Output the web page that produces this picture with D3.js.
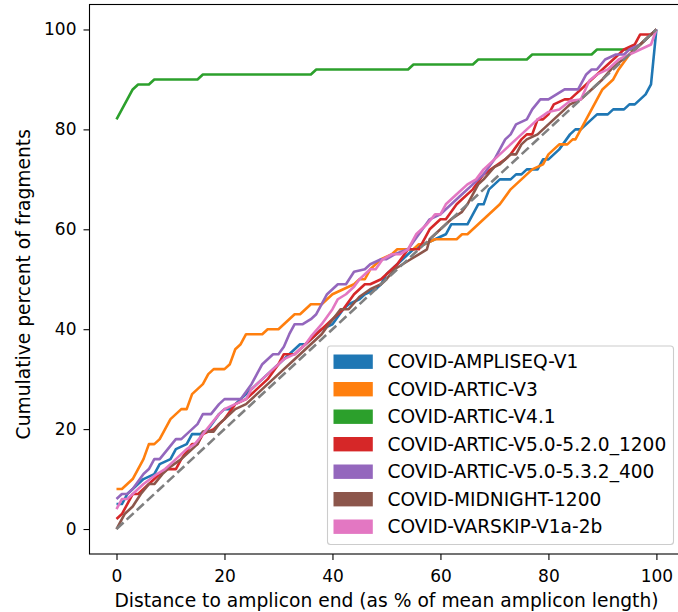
<!DOCTYPE html>
<html>
<head>
<meta charset="utf-8">
<script src="https://cdn.jsdelivr.net/npm/d3@7"></script>
<style>
  html, body { margin: 0; padding: 0; background: #fff; }
  svg { display: block; font-family: "DejaVu Sans", sans-serif; }
</style>
</head>
<body>
<svg id="chart" width="678" height="612"></svg>
<script>
// ---- data (x = distance %, y = cumulative %) ----
const seriesNames = [
  "COVID-AMPLISEQ-V1",
  "COVID-ARTIC-V3",
  "COVID-ARTIC-V4.1",
  "COVID-ARTIC-V5.0-5.2.0_1200",
  "COVID-ARTIC-V5.0-5.3.2_400",
  "COVID-MIDNIGHT-1200",
  "COVID-VARSKIP-V1a-2b"
];
const seriesColors = ["#1f77b4", "#ff7f0e", "#2ca02c", "#d62728", "#9467bd", "#8c564b", "#e377c2"];

const amplisePts = [[0,5],[1,5],[2,7],[4,9],[5,10],[7,11],[8,13],[10,14],[11,16],[13,17],[14,19],[15.5,19],[17,20],[19,23],[20,24],[21,24],[22,25],[24,27],[26,29],[28,31],[30,33],[32,35],[33,36],[34,37],[35,37],[36,38],[38,40],[40,41],[42,44],[43,45],[45,46],[46,47],[48,48],[49,49],[50,51],[52,53],[54,55],[55,56],[57,57],[59,58],[61,59],[62,61],[65,61],[66,63],[67,65],[68,65],[69,68],[71,70],[73,70],[74,71],[75,71],[76,72],[78,72],[79,74],[80,74],[82,76],[84,79],[85,80],[86,80],[89,83],[91,83],[92,84],[94,84],[95,85],[96,85],[98,87],[99,89],[100,100]];
const articV3Pts = [[0,8],[1,8],[2,9],[3,10],[4,12],[5,14],[6,17],[7,17],[8,18],[9,20],[10,22],[11,23],[12,24],[13,24],[14,27],[15,28],[16,29],[17,31],[18,32],[20,32],[21,33],[22,36],[23,37],[24,39],[27,39],[28,40],[30,40],[31,41],[33,43],[34,43],[36,45],[38,45],[39,46],[40,47],[42,48],[44,49],[45,50],[46,50],[47,52],[49,54],[51,55],[52,56],[55,56],[56,57],[57,57],[59,58],[63,58],[64,59],[65,59],[67,61],[69,63],[71,65],[73,68],[75,70],[77,72],[79,73],[80,75],[82,77],[83.5,77],[84.5,78],[85,78],[87,82],[88,84],[89,86],[90,88],[92,90],[93,92],[95,95],[97,97],[100,100]];
const articV41Pts = [[0,82],[1,84],[2,86],[3,88],[4,89],[6,89],[7,90],[15,90],[16,91],[36,91],[37,92],[54,92],[55,93],[66,93],[67,94],[76,94],[77,95],[88,95],[89,96],[96,96],[97,97],[98,98],[99,99],[100,100]];
const artic1200Pts = [[0,2],[1,3],[2,5],[3,7],[4,7],[5,8],[6,9],[8,11],[9.5,12],[11,12],[12,14],[14,17],[15,17],[16,19],[18,20],[19,21],[20,22],[22,25],[24,26],[26,28],[28,30],[30,33],[31,35],[33,35],[34,36],[36,38],[37,39],[39,41],[41,43],[42,44],[44,47],[46,49],[47,49],[49,50],[50,51],[52,53],[54,56],[56,56],[58,60],[60,62],[61,62],[63,65],[64,66],[66,68],[68,71],[70,72.5],[72,74],[73,75],[75,78],[76,79],[77,79],[78,82],[79,82],[80,83],[81,85],[83,86],[84,86],[85,87],[86,88],[88,90],[90,92],[92,94],[94,96],[96,97],[97,99],[99,99],[100,100]];
const artic400Pts = [[0,6],[1,7],[2,7],[3,8],[5,11],[6,12],[7,14],[8,14],[9.5,16],[11,18],[12,18],[13,19],[15,21],[16,23],[17.5,23],[19,25],[20,26],[23,26],[24,27.5],[25,29],[26,31],[27,33],[29,35],[30,35],[31,36.5],[32,39],[33,41],[34.5,41],[36,42],[37,43],[38,45],[39,47],[40,48],[41,49],[42.5,49],[44,51.5],[46,52],[47,53],[49,54],[50,54],[51.5,55],[54,56],[56,59],[58,62],[60,63],[62,65],[64,67],[66,69],[68,71],[70,74],[71,76],[72,78],[73,79],[74,81],[76,82],[77,84],[78.5,86],[80,86],[81.5,87],[83,88],[85.5,88],[87,91],[88,92],[89,92],[90.5,94],[92.5,95],[94,95],[95,96],[97,97],[98,98],[99,99],[100,100]];
const midnightPts = [[0,0],[1.5,3],[3,4.5],[4.5,7],[6,9],[7,9],[8.5,11],[10,12.5],[12,14],[13.5,15.5],[15,17],[16,19.5],[18,19.5],[19,21],[20,22],[22,24],[24,25],[26,27],[28,29],[30,31],[32,33],[34,35],[36,37],[38,39],[39,40.5],[41.5,44],[43,44],[45,46.5],[47,48],[49,49],[50,50],[51.5,52],[53,53],[54.5,54],[56,55],[57.5,56],[58,58],[59,59],[61,61],[62,62],[64,63.5],[65,65],[66,67],[67,69],[68,70],[70,72.5],[71,73],[73,75],[74,75],[75,77],[76,78],[78,79],[80,81],[82,83],[84,85],[86,86],[88,88],[90,90],[92,92.5],[95,95],[97,97],[100,100]];
const varskipPts = [[0,4],[1,6],[2,6],[4,8],[5,9],[7.5,11],[9,12],[10,13],[11,14],[13,16],[14.5,17],[16,19],[17.5,21],[19,23],[20,24],[22,25],[24,26],[25,28],[27,30],[29,32],[31,34],[33,35],[35,37],[36,38.5],[38,41],[40,44],[41,46],[42.5,47],[44,48.5],[45,50],[47,52],[48,52],[49.3,54],[51,55],[52.5,55],[54,56],[55.5,59],[57.5,61],[59,63],[60,63],[61,65],[63,67],[65,69],[66.6,70],[68,72],[70,74],[72,76],[74,78],[76,80],[78,82],[80,83.5],[82,84],[84,85.7],[86,86],[87.6,89.8],[89,91],[91,92],[93,94],[95,95],[97,96],[99,97],[100,100]];

const seriesPoints = [amplisePts, articV3Pts, articV41Pts, artic1200Pts, artic400Pts, midnightPts, varskipPts];
const diagonalPts = [[0,0],[100,100]];

const xTicks = [0, 20, 40, 60, 80, 100];
const yTicks = [0, 20, 40, 60, 80, 100];
const xLabel = "Distance to amplicon end (as % of mean amplicon length)";
const yLabel = "Cumulative percent of fragments";

// ---- layout ----
const svg = d3.select("#chart");
const L = 89.5, R = 678, T = 4.5, B = 554;
const x = d3.scaleLinear().domain([-5, 104]).range([L, R]);
const y = d3.scaleLinear().domain([-5, 105]).range([B, T]);
const FS = 17;     // tick labels
const LFS = 18.7;  // axis labels
const GFS = 18.6;  // legend

const plot = svg.append("g");
svg.append("clipPath").attr("id", "clip").append("rect")
  .attr("x", L).attr("y", T).attr("width", R - L).attr("height", B - T);

const line = d3.line().x(d => x(d[0])).y(d => y(d[1]));

const linesG = plot.append("g").attr("clip-path", "url(#clip)");
seriesPoints.forEach((pts, i) => {
  linesG.append("path")
    .attr("d", line(pts))
    .attr("fill", "none")
    .attr("stroke", seriesColors[i])
    .attr("stroke-width", 2.6)
    .attr("stroke-linejoin", "round")
    .attr("stroke-linecap", "butt");
});
linesG.append("path")
  .attr("d", line(diagonalPts))
  .attr("fill", "none")
  .attr("stroke", "#808080")
  .attr("stroke-width", 2.6)
  .attr("stroke-dasharray", "9.6,4.2");

// ---- axes ----
const xAxis = d3.axisBottom(x).tickValues(xTicks).tickSize(6).tickPadding(9.5).tickFormat(d3.format("d"));
const yAxis = d3.axisLeft(y).tickValues(yTicks).tickSize(6).tickPadding(7).tickFormat(d3.format("d"));

const gx = svg.append("g").attr("transform", `translate(0,${B})`).call(xAxis);
const gy = svg.append("g").attr("transform", `translate(${L},0)`).call(yAxis);
[gx, gy].forEach(g => {
  g.select(".domain").remove();
  g.selectAll(".tick line").attr("stroke", "#000").attr("stroke-width", 1.1);
  g.selectAll(".tick text").attr("fill", "#000").style("font-size", FS + "px").style("font-family", "DejaVu Sans");
});

// spines
svg.append("rect")
  .attr("x", L).attr("y", T).attr("width", R - L + 5).attr("height", B - T)
  .attr("fill", "none").attr("stroke", "#000").attr("stroke-width", 1.1);

// labels
svg.append("text")
  .attr("x", 386.5).attr("y", 607)
  .attr("text-anchor", "middle").style("font-size", LFS + "px").text(xLabel);
svg.append("text")
  .attr("transform", `translate(30,${(T + B) / 2 + 5}) rotate(-90)`)
  .attr("text-anchor", "middle").style("font-size", LFS + "px").text(yLabel);

// ---- legend ----
const lg = svg.append("g");
const lx = 327.5, ly = 346, lw = 346, lh = 198.5;
lg.append("rect").attr("x", lx).attr("y", ly).attr("width", lw).attr("height", lh)
  .attr("rx", 3).attr("fill", "#fff").attr("fill-opacity", 0.8)
  .attr("stroke", "#cccccc").attr("stroke-width", 1.1);
const rowY = d3.scaleLinear().domain([0, 6]).range([361.7, 526.7]);
seriesNames.forEach((name, i) => {
  const cy = rowY(i);
  lg.append("rect").attr("x", 333.5).attr("y", cy - 7.2).attr("width", 39.3).attr("height", 14.4)
    .attr("fill", seriesColors[i]);
  lg.append("text").attr("x", 387.5).attr("y", cy + 6.7)
    .style("font-size", GFS + "px").attr("fill", "#000").text(name);
});
</script>
</body>
</html>
